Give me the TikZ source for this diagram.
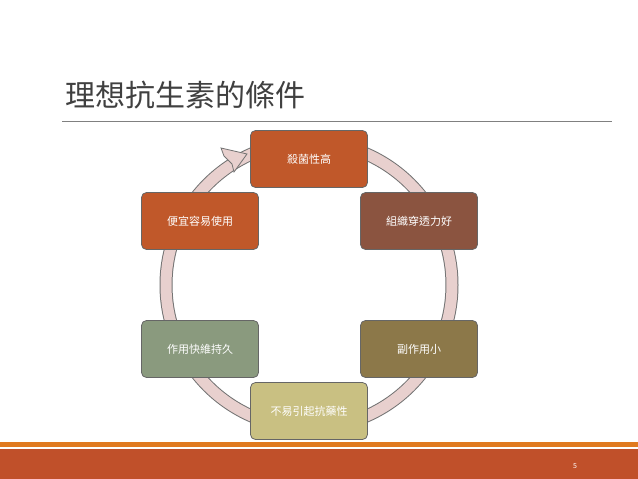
\documentclass[tikz,border=0pt]{standalone}
\usepackage{fontspec}
\setmainfont{Noto Sans CJK TC}
\definecolor{cA}{RGB}{192,88,42}
\definecolor{cB}{RGB}{139,84,64}
\definecolor{cC}{RGB}{140,120,73}
\definecolor{cD}{RGB}{201,192,130}
\definecolor{cE}{RGB}{138,154,126}
\definecolor{ringc}{RGB}{232,208,206}
\definecolor{fo}{RGB}{224,122,31}
\definecolor{fr}{RGB}{192,80,42}
\begin{document}
\begin{tikzpicture}[x=1pt,y=-1pt,
  box/.style={draw=black!60,line width=0.8pt,rounded corners=5pt,minimum width=117pt,minimum height=57pt,text=white,font=\fontsize{11}{13}\selectfont}]
\useasboundingbox (0,0) rectangle (638,479);
\fill[white] (0,0) rectangle (638,479);
\node[anchor=west,font=\fontsize{30}{34}\selectfont,text=black!75] (title) at (62,95) {理想抗生素的條件};
\draw[black!50,line width=0.6pt] (62,121) -- (612,121);
% ring
\draw[black!55,line width=13pt] (309,285) circle (143);
\draw[ringc,line width=11pt] (309,285) circle (143);
% arrowhead
\filldraw[fill=ringc,draw=black!55,line width=0.8pt]
  (224,156) -- (221,148) -- (247,154) -- (234,172) -- (232,164) -- cycle;
\node[box,fill=cA] (a) at (309,159) {殺菌性高};
\node[box,fill=cB] (b) at (419,221) {組織穿透力好};
\node[box,fill=cC] (c) at (419,349) {副作用小};
\node[box,fill=cD] (d) at (309,411) {不易引起抗藥性};
\node[box,fill=cE] (e) at (200,349) {作用快維持久};
\node[box,fill=cA] (f) at (200,221) {便宜容易使用};
% footer
\fill[fo] (0,442) rectangle (638,447);
\fill[fr] (0,449) rectangle (638,479);
\node[text=white,font=\fontsize{7}{8}\selectfont] (pg) at (575,466) {5};
\end{tikzpicture}
\end{document}
